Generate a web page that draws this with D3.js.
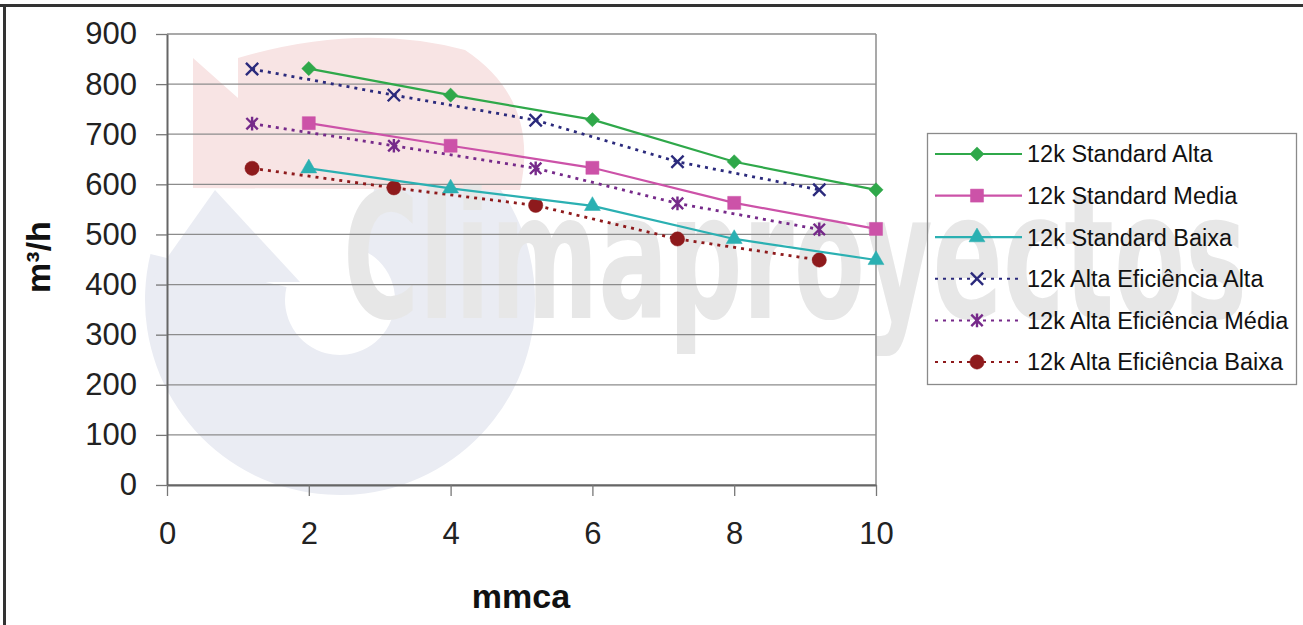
<!DOCTYPE html>
<html>
<head>
<meta charset="utf-8">
<script src="https://cdn.jsdelivr.net/npm/d3@7"></script>
<style>
  body { margin: 0; background: #fff; }
  svg text { font-family: "Liberation Sans", Arial, sans-serif; }
</style>
</head>
<body>
<div id="grafic"></div>
<script>
// dades llegides de la imatge
var xStandard = [2, 4, 6, 8, 10];
var xEficiencia = [1.2, 3.2, 5.2, 7.2, 9.2];

var standardAlta = [831, 778, 729, 645, 589];
var standardMedia = [722, 677, 633, 563, 511];
var standardBaixa = [632, 592, 557, 491, 449];
var eficienciaAlta = [830, 778, 728, 645, 589];
var eficienciaMedia = [721, 677, 632, 562, 510];
var eficienciaBaixa = [632, 593, 558, 491, 449];

var nomsSeries = [
    "12k Standard Alta",
    "12k Standard Media",
    "12k Standard Baixa",
    "12k Alta Eficiência Alta",
    "12k Alta Eficiência Média",
    "12k Alta Eficiência Baixa"
];

var yTicks = [0, 100, 200, 300, 400, 500, 600, 700, 800, 900];
var xTicks = [0, 2, 4, 6, 8, 10];
var titolX = "mmca";
var titolY = "m³/h";
var marcaAigua = "Climaproyectos";

window.onload = () => {
    var width = 1303;
    var height = 625;

    var svg = d3.select("#grafic")
        .append("svg")
        .attr("width", width)
        .attr("height", height);

    var x = d3.scaleLinear().domain([0, 10]).range([167, 876]);
    var y = d3.scaleLinear().domain([0, 900]).range([485, 34]);

    // marca d'aigua del fons (logotip esvaït)
    var logo = svg.append("g");
    var anell = d3.arc()
        .innerRadius(55)
        .outerRadius(195)
        .startAngle(0.3)
        .endAngle(4.95);
    logo.append("path")
        .attr("transform", "translate(340,300)")
        .attr("d", anell())
        .attr("fill", "#eaecf3");
    logo.append("path")
        .attr("d", "M150,282 L300,282 L215,190 Z")
        .attr("fill", "#eaecf3");
    logo.append("path")
        .attr("d", "M193,188 L193,58 L238,98 L238,58 Q360,22 465,50 Q540,100 520,190 Z")
        .attr("fill", "#f8e4e4");
    logo.append("text")
        .attr("x", 343)
        .attr("y", 318)
        .attr("textLength", 904)
        .attr("lengthAdjust", "spacingAndGlyphs")
        .style("font-family", "'Liberation Sans Narrow', 'DejaVu Sans Condensed', sans-serif")
        .style("font-weight", "bold")
        .style("font-size", "175px")
        .attr("fill", "#e7e7e7")
        .text(marcaAigua);

    // marc exterior
    svg.append("line").attr("x1", 0).attr("x2", width).attr("y1", 5.5).attr("y2", 5.5)
        .attr("stroke", "#333").attr("stroke-width", 3);
    svg.append("line").attr("x1", 4.5).attr("x2", 4.5).attr("y1", 4).attr("y2", height)
        .attr("stroke", "#333").attr("stroke-width", 3);

    // graella
    svg.append("g")
        .selectAll("line")
        .data(yTicks)
        .enter()
        .append("line")
        .attr("x1", x(0))
        .attr("x2", x(10))
        .attr("y1", d => y(d))
        .attr("y2", d => y(d))
        .attr("stroke", "#8c8c8c")
        .attr("stroke-width", 1.3);
    svg.append("line")
        .attr("x1", x(10)).attr("x2", x(10))
        .attr("y1", y(900)).attr("y2", y(0))
        .attr("stroke", "#8c8c8c")
        .attr("stroke-width", 1.5);

    var eixY = svg.append("g")
        .attr("transform", "translate(" + x(0) + ",0)")
        .call(d3.axisLeft(y).tickValues(yTicks).tickSize(11).tickPadding(19).tickSizeOuter(0));
    var eixX = svg.append("g")
        .attr("transform", "translate(0," + y(0) + ")")
        .call(d3.axisBottom(x).tickValues(xTicks).tickSize(11).tickPadding(26).tickSizeOuter(0));

    [eixY, eixX].forEach(function (g) {
        g.select(".domain").attr("stroke", "#666").attr("stroke-width", 2);
        g.selectAll(".tick line").attr("stroke", "#777").attr("stroke-width", 1.3);
        g.selectAll(".tick text")
            .attr("fill", "#222")
            .style("font-size", "31px");
    });
    eixX.selectAll(".tick text").attr("dy", "0.72em");

    svg.append("text")
        .attr("x", 521)
        .attr("y", 608)
        .attr("text-anchor", "middle")
        .style("font-size", "34px")
        .style("font-weight", "bold")
        .attr("fill", "#111")
        .text(titolX);
    svg.append("text")
        .attr("transform", "translate(50,257) rotate(-90)")
        .attr("text-anchor", "middle")
        .style("font-size", "34px")
        .style("font-weight", "bold")
        .attr("fill", "#111")
        .text(titolY);

    // símbols propis
    var creu = {
        draw: function (ctx, size) {
            var r = Math.sqrt(size) / 2;
            ctx.moveTo(-r, -r); ctx.lineTo(r, r);
            ctx.moveTo(r, -r); ctx.lineTo(-r, r);
        }
    };
    var asterisc = {
        draw: function (ctx, size) {
            var r = Math.sqrt(size) / 2;
            ctx.moveTo(-r, -r); ctx.lineTo(r, r);
            ctx.moveTo(r, -r); ctx.lineTo(-r, r);
            ctx.moveTo(0, -r * 1.2); ctx.lineTo(0, r * 1.2);
        }
    };

    var series = [
        { nom: nomsSeries[0], xs: xStandard, ys: standardAlta, color: "#2fa84a", dash: null, simbol: d3.symbolSquare, mida: 100, gir: 45, omple: true },
        { nom: nomsSeries[1], xs: xStandard, ys: standardMedia, color: "#cc52a8", dash: null, simbol: d3.symbolSquare, mida: 170, gir: 0, omple: true },
        { nom: nomsSeries[2], xs: xStandard, ys: standardBaixa, color: "#2bb0b2", dash: null, simbol: d3.symbolTriangle, mida: 110, gir: 0, omple: true },
        { nom: nomsSeries[3], xs: xEficiencia, ys: eficienciaAlta, color: "#2b2a7c", dash: "3,5", simbol: creu, mida: 150, gir: 0, omple: false },
        { nom: nomsSeries[4], xs: xEficiencia, ys: eficienciaMedia, color: "#762a8a", dash: "3,5", simbol: asterisc, mida: 130, gir: 0, omple: false },
        { nom: nomsSeries[5], xs: xEficiencia, ys: eficienciaBaixa, color: "#8e1a1c", dash: "3,5", simbol: d3.symbolCircle, mida: 160, gir: 0, omple: true }
    ];

    var linia = d3.line().x(d => x(d[0])).y(d => y(d[1]));

    // primer les de punts, després les contínues
    var ordre = [3, 4, 5, 0, 1, 2];
    ordre.forEach(function (i) {
        var s = series[i];
        var punts = s.xs.map((v, k) => [v, s.ys[k]]);
        svg.append("path")
            .datum(punts)
            .attr("d", linia)
            .attr("fill", "none")
            .attr("stroke", s.color)
            .attr("stroke-width", s.dash ? 2.8 : 2.2)
            .attr("stroke-dasharray", s.dash);
        svg.append("g")
            .selectAll("path")
            .data(punts)
            .enter()
            .append("path")
            .attr("transform", d => "translate(" + x(d[0]) + "," + y(d[1]) + ") rotate(" + s.gir + ")")
            .attr("d", d3.symbol().type(s.simbol).size(s.mida))
            .attr("fill", s.omple ? s.color : "none")
            .attr("stroke", s.color)
            .attr("stroke-width", s.omple ? 0.5 : 2.4);
    });

    // llegenda
    var llegenda = svg.append("g");
    llegenda.append("rect")
        .attr("x", 927.5)
        .attr("y", 133.5)
        .attr("width", 369)
        .attr("height", 251)
        .attr("fill", "none")
        .attr("stroke", "#8a8a8a")
        .attr("stroke-width", 1.3);

    var files = llegenda.selectAll("g.fila")
        .data(series)
        .enter()
        .append("g")
        .attr("class", "fila")
        .attr("transform", (d, i) => "translate(0," + (154 + i * 41.6) + ")");
    files.append("line")
        .attr("x1", 935).attr("x2", 1022)
        .attr("stroke", d => d.color)
        .attr("stroke-width", d => d.dash ? 2 : 2.2)
        .attr("stroke-dasharray", d => d.dash ? "3,5" : null);
    files.append("path")
        .attr("transform", d => "translate(977,0) rotate(" + d.gir + ")")
        .attr("d", d => d3.symbol().type(d.simbol).size(d.mida)())
        .attr("fill", d => d.omple ? d.color : "none")
        .attr("stroke", d => d.color)
        .attr("stroke-width", d => d.omple ? 0.5 : 2.4);
    files.append("text")
        .attr("x", 1027)
        .attr("dy", "0.36em")
        .style("font-size", "23.5px")
        .attr("fill", "#111")
        .text(d => d.nom);
};
</script>
</body>
</html>
